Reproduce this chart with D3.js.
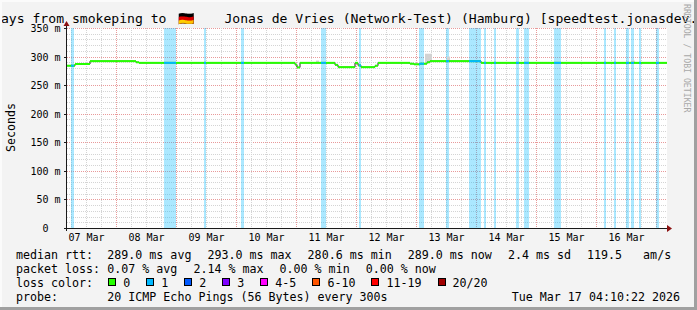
<!DOCTYPE html>
<html>
<head>
<meta charset="utf-8">
<script src="https://cdn.jsdelivr.net/npm/d3@7"></script>
<style>
  html, body { margin: 0; padding: 0; background: #f3f3f3; }
  svg { display: block; }
  text { font-family: "DejaVu Sans Mono", monospace; white-space: pre; fill: #000; }
</style>
</head>
<body>
<svg id="chart" width="697" height="310"></svg>
<script>
// time window of the graph (10 days up to the probe time)
const timeStart = "2026-03-07 04:10";
const timeEnd = "2026-03-17 04:10";

// y axis (milliseconds)
const yMax = 350;
const yTickValues = [0, 50, 100, 150, 200, 250, 300, 350];

// median rtt as steps: start of each step and its value (ms)
const medianTimes = [
  "2026-03-07 04:10", "2026-03-07 07:22", "2026-03-07 13:22", "2026-03-08 07:46",
  "2026-03-08 08:58", "2026-03-10 23:22", "2026-03-11 00:10", "2026-03-11 01:22",
  "2026-03-11 15:22", "2026-03-11 16:34", "2026-03-11 23:22", "2026-03-12 00:34",
  "2026-03-12 01:46", "2026-03-12 07:22", "2026-03-12 08:34", "2026-03-12 21:22",
  "2026-03-12 22:58", "2026-03-13 01:22", "2026-03-13 04:10", "2026-03-13 05:22",
  "2026-03-14 01:46"
];
const medianValues = [
  284, 287, 292, 290,
  289, 286, 281, 289,
  285.5, 281.5, 289, 284.5,
  281.5, 284, 289, 287.5,
  286.5, 287.5, 290, 292,
  289
];

// periods with packet loss (1/20), shown as background bars
const lossStarts = [
  "2026-03-07 05:46", "2026-03-08 18:58", "2026-03-09 10:58", "2026-03-10 01:46",
  "2026-03-11 09:46", "2026-03-12 00:58", "2026-03-13 00:58", "2026-03-13 11:46",
  "2026-03-13 20:58", "2026-03-14 02:58", "2026-03-14 06:58", "2026-03-14 15:46",
  "2026-03-14 18:58", "2026-03-15 06:58", "2026-03-16 02:58", "2026-03-16 06:58",
  "2026-03-16 11:46", "2026-03-16 13:46", "2026-03-16 16:58", "2026-03-16 23:46"
];
const lossEnds = [
  "2026-03-07 06:58", "2026-03-08 23:46", "2026-03-09 11:46", "2026-03-10 02:58",
  "2026-03-11 11:46", "2026-03-12 01:46", "2026-03-13 02:58", "2026-03-13 12:58",
  "2026-03-14 01:46", "2026-03-14 03:46", "2026-03-14 07:46", "2026-03-14 16:58",
  "2026-03-14 20:58", "2026-03-15 09:46", "2026-03-16 03:46", "2026-03-16 07:46",
  "2026-03-16 12:58", "2026-03-16 14:58", "2026-03-16 17:46", "2026-03-17 00:58"
];

// smoke (spread of the pings), only a few visible spots
const smokeStarts = ["2026-03-11 07:46", "2026-03-13 03:22", "2026-03-13 12:10", "2026-03-16 13:46"];
const smokeEnds   = ["2026-03-11 08:58", "2026-03-13 06:10", "2026-03-13 13:22", "2026-03-16 15:22"];
const smokeLow    = [289, 290, 293, 290];
const smokeHigh   = [293, 305, 300, 293];

// legend texts
const titleStart = "Last 10 Days from smokeping to ";
const titleFlag = "\u{1F1E9}\u{1F1EA}";
const titleEnd = " Jonas de Vries (Network-Test) (Hamburg) [speedtest.jonasdev.de]";
const medianStats = ["289.0 ms avg", "293.0 ms max", "280.6 ms min", "289.0 ms now", "2.4 ms sd", "119.5   am/s"];
const lossStats = ["0.07 % avg", "2.14 % max", "0.00 % min", "0.00 % now"];
const lossLabels = ["0", "1", "2", "3", "4-5", "6-10", "11-19", "20/20"];
const lossColors = ["#26ff00", "#00b8ff", "#0059ff", "#7e00ff", "#ff00ff", "#ff5500", "#ff0000", "#a00000"];
const probeText = "20 ICMP Echo Pings (56 Bytes) every 300s";
const stampText = "Tue Mar 17 04:10:22 2026";

const parse = d3.timeParse("%Y-%m-%d %H:%M");
const W = 697, H = 310;
const plot = { left: 67, top: 28, width: 600, height: 200 };

const svg = d3.select("#chart");

const x = d3.scaleTime()
  .domain([parse(timeStart), parse(timeEnd)])
  .range([plot.left, plot.left + plot.width]);
const y = d3.scaleLinear()
  .domain([0, yMax])
  .range([plot.top + plot.height, plot.top]);

// background and canvas
svg.append("rect").attr("width", W).attr("height", H).attr("fill", "#f3f3f3");
svg.append("rect")
  .attr("x", plot.left).attr("y", plot.top)
  .attr("width", plot.width).attr("height", plot.height)
  .attr("fill", "#ffffff");

// grid
const grid = svg.append("g");
d3.range(10, yMax + 1, 10).forEach(v => {
  const yy = Math.round(y(v)) + 0.5;
  grid.append("line")
    .attr("x1", plot.left).attr("x2", plot.left + plot.width)
    .attr("y1", yy).attr("y2", yy)
    .attr("stroke", v % 50 === 0 ? "#e89a9a" : "#d4d4d4")
    .attr("stroke-dasharray", "1,1");
});
const t0 = parse(timeStart), t1 = parse(timeEnd);
d3.timeHour.every(6).range(t0, t1).forEach(t => {
  const xx = Math.floor(x(t)) + 0.5;
  grid.append("line")
    .attr("x1", xx).attr("x2", xx)
    .attr("y1", plot.top).attr("y2", plot.top + plot.height)
    .attr("stroke", t.getHours() === 0 ? "#e89a9a" : "#d4d4d4")
    .attr("stroke-dasharray", "1,1");
});

// loss background bars
svg.append("g").selectAll("rect")
  .data(lossStarts.map((s, i) => ({ start: parse(s), end: parse(lossEnds[i]) })))
  .enter().append("rect")
  .attr("x", d => x(d.start))
  .attr("y", plot.top)
  .attr("width", d => x(d.end) - x(d.start))
  .attr("height", plot.height)
  .attr("fill", lossColors[1])
  .attr("opacity", 0.33);

// smoke
svg.append("g").selectAll("rect")
  .data(smokeStarts.map((s, i) => ({ start: parse(s), end: parse(smokeEnds[i]), lo: smokeLow[i], hi: smokeHigh[i] })))
  .enter().append("rect")
  .attr("x", d => x(d.start))
  .attr("y", d => y(d.hi))
  .attr("width", d => x(d.end) - x(d.start))
  .attr("height", d => y(d.lo) - y(d.hi))
  .attr("fill", "#d2d2d2");

// median
const steps = medianTimes.map((s, i) => ({
  start: parse(s),
  end: i < medianTimes.length - 1 ? parse(medianTimes[i + 1]) : t1,
  value: medianValues[i]
}));
const linePts = steps.map(d => [d.start, d.value]).concat([[t1, steps[steps.length - 1].value]]);
svg.append("path")
  .attr("d", d3.line().x(d => x(d[0])).y(d => y(d[1])).curve(d3.curveStepAfter)(linePts))
  .attr("fill", "none")
  .attr("stroke", "#202020")
  .attr("stroke-width", 1);

function drawSteps(g, color) {
  g.selectAll("rect")
    .data(steps)
    .enter().append("rect")
    .attr("x", d => x(d.start))
    .attr("y", d => y(d.value) - 1)
    .attr("width", d => x(d.end) - x(d.start))
    .attr("height", 2)
    .attr("fill", color);
}
drawSteps(svg.append("g"), lossColors[0]);

const clip = svg.append("clipPath").attr("id", "lossclip");
lossStarts.forEach((s, i) => {
  clip.append("rect")
    .attr("x", x(parse(s))).attr("y", 0)
    .attr("width", x(parse(lossEnds[i])) - x(parse(s)))
    .attr("height", H);
});
drawSteps(svg.append("g").attr("clip-path", "url(#lossclip)"), lossColors[1]);

// axes
const axisY = plot.top + plot.height + 0.5;
svg.append("line")
  .attr("x1", plot.left - 3).attr("x2", plot.left + plot.width + 1)
  .attr("y1", axisY).attr("y2", axisY)
  .attr("stroke", "#1a1a1a");
svg.append("line")
  .attr("x1", plot.left - 0.5).attr("x2", plot.left - 0.5)
  .attr("y1", plot.top + plot.height + 3).attr("y2", plot.top - 3)
  .attr("stroke", "#1a1a1a");
// arrows
svg.append("path")
  .attr("d", `M${plot.left - 3.5},${plot.top - 2} L${plot.left + 2.5},${plot.top - 2} L${plot.left - 0.5},${plot.top - 7} Z`)
  .attr("fill", "#8b1010");
svg.append("path")
  .attr("d", `M${plot.left + plot.width},${axisY - 3.5} L${plot.left + plot.width},${axisY + 3.5} L${plot.left + plot.width + 5},${axisY} Z`)
  .attr("fill", "#8b1010");

// y ticks and labels
yTickValues.forEach(v => {
  const yy = Math.round(y(v)) + 0.5;
  svg.append("line")
    .attr("x1", plot.left - 3).attr("x2", plot.left)
    .attr("y1", yy).attr("y2", yy)
    .attr("stroke", "#1a1a1a");
  svg.append("text")
    .attr("x", 48.5).attr("y", yy + 3.8)
    .attr("text-anchor", "end")
    .style("font-size", "10px")
    .text(v);
  if (v > 0) {
    svg.append("text")
      .attr("x", 54.5).attr("y", yy + 3.8)
      .style("font-size", "10px")
      .text("m");
  }
});

// x labels at noon of each day
d3.timeDay.range(d3.timeDay.floor(t0), t1).forEach(day => {
  const noon = d3.timeHour.offset(day, 12);
  if (noon < t0 || noon > t1) return;
  svg.append("text")
    .attr("x", x(noon)).attr("y", 241)
    .attr("text-anchor", "middle")
    .style("font-size", "10px")
    .text(d3.timeFormat("%d %b")(noon));
});

// y axis title
svg.append("text")
  .attr("transform", "translate(14.5,127.5) rotate(-90)")
  .attr("text-anchor", "middle")
  .style("font-size", "11.65px")
  .text("Seconds");

// title
const title = svg.append("text").attr("y", 22.5).style("font-size", "13.1px");
title.append("tspan").attr("x", -70).text(titleStart);
title.append("tspan").attr("x", 178).text(titleFlag);
title.append("tspan").attr("x", 216.5).text(titleEnd);

// watermark
svg.append("text")
  .attr("transform", "translate(684,4) rotate(90)")
  .style("font-size", "8.2px")
  .style("fill", "#a8a8a8")
  .text("RRDTOOL / TOBI OETIKER");

// legend
const charW = 11.65 * 0.602;
const legend = svg.append("g").style("font-size", "11.65px");
function legendRow(label, items, yBase) {
  legend.append("text").attr("x", 16).attr("y", yBase).text(label);
  let xx = 107.3;
  items.forEach(s => {
    legend.append("text").attr("x", xx).attr("y", yBase).text(s);
    xx += s.length * charW + 16;
  });
}
legendRow("median rtt:", medianStats, 258.5);
legendRow("packet loss:", lossStats, 272.5);

legend.append("text").attr("x", 16).attr("y", 286.5).text("loss color:");
let bx = 108.3;
lossLabels.forEach((lab, i) => {
  legend.append("rect")
    .attr("x", Math.round(bx) + 0.5).attr("y", 278.5)
    .attr("width", 7).attr("height", 7)
    .attr("fill", lossColors[i])
    .attr("stroke", "#000");
  legend.append("text").attr("x", bx + 15).attr("y", 286.5).text(lab);
  bx += 15 + lab.length * charW + 16;
});

legend.append("text").attr("x", 16).attr("y", 300.5).text("probe:");
legend.append("text").attr("x", 107.3).attr("y", 300.5).text(probeText);
legend.append("text").attr("x", 680).attr("y", 300.5).attr("text-anchor", "end").text(stampText);

// 3d frame
svg.append("rect").attr("x", 0).attr("y", 0).attr("width", W).attr("height", 2).attr("fill", "#fbfbfb");
svg.append("rect").attr("x", 0).attr("y", 0).attr("width", 2).attr("height", H).attr("fill", "#fbfbfb");
svg.append("rect").attr("x", W - 3).attr("y", 0).attr("width", 3).attr("height", H).attr("fill", "#a0a0a0");
svg.append("rect").attr("x", 0).attr("y", H - 3).attr("width", W).attr("height", 3).attr("fill", "#a0a0a0");
</script>
</body>
</html>
